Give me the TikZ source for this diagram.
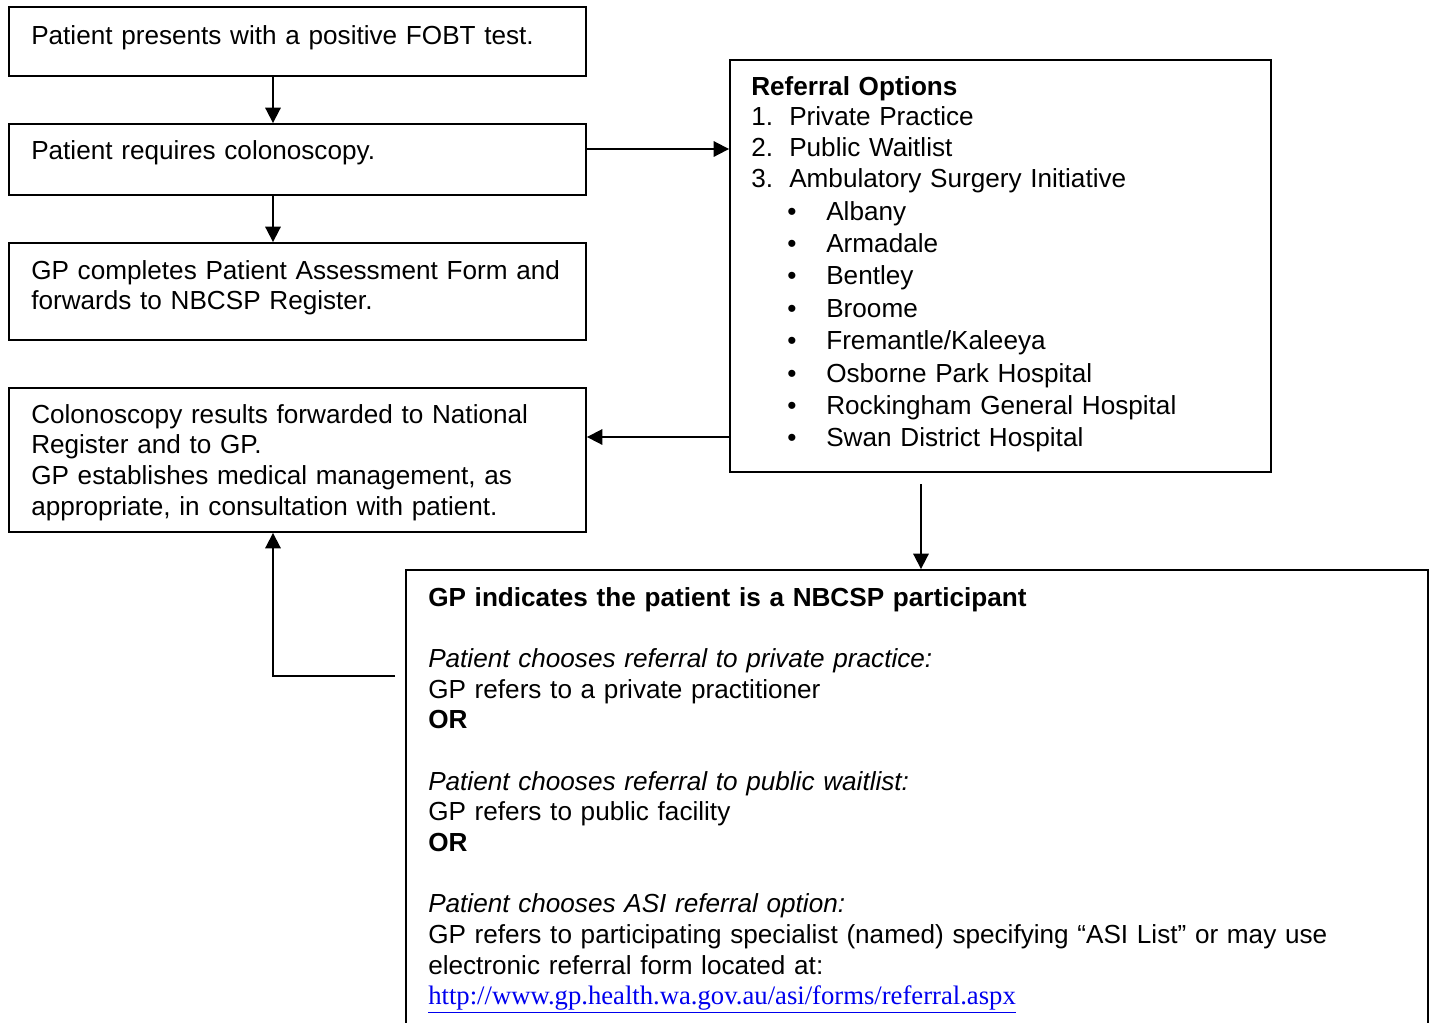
\documentclass[tikz,border=0pt]{standalone}
\usepackage{fontspec}
\setmainfont{Liberation Sans}
\newfontfamily\linkfont{Liberation Serif}
\usepackage{tikz}
\usetikzlibrary{arrows.meta,fit}
\definecolor{linkblue}{RGB}{0,0,238}

\begin{document}
\begin{tikzpicture}%
        [x=0.75pt, y=-0.75pt,
        box/.style={draw, line width=1.4pt, inner sep=0pt},
        txt/.style={anchor=base west, inner sep=0pt, text width=740pt, align=left,
                    font=\fontsize{19.6pt}{23pt}\selectfont},
        arr/.style={line width=1.4pt, -{Triangle[length=11.5pt, width=11.5pt]}}]
    %
    \useasboundingbox (0,0) rectangle (1432,1022);
    %
    %% Drawing the boxes
    \node[box, fit={(9,7) (586,76)}] (fobt) {};
    \node[box, fit={(9,124) (586,195)}] (colon) {};
    \node[box, fit={(9,243) (586,340)}] (gpform) {};
    \node[box, fit={(9,388) (586,532)}] (results) {};
    \node[box, fit={(730,60) (1271,472)}] (refer) {};
    \node[box, fit={(406,570) (1428,1060)}] (nbcsp) {};
    %%
    %% Texts of the boxes
    \node[txt] (fobt-txt) at (31,44) {Patient presents with a positive FOBT test.};
    \node[txt] (colon-txt) at (31,159) {Patient requires colonoscopy.};
    \node[txt] (gpform-txt) at (31,279) {GP completes Patient Assessment Form and\\
        forwards to NBCSP Register.};
    \node[txt] (results-txt) at (31,423) {Colonoscopy results forwarded to National\\
        Register and to GP.\\
        GP establishes medical management, as\\
        appropriate, in consultation with patient.};
    \node[txt] (refer-txt) at (751,95) {\textbf{Referral Options}\\
        \makebox[28.5pt][l]{1.}Private Practice\\
        \makebox[28.5pt][l]{2.}Public Waitlist\\
        \makebox[28.5pt][l]{3.}Ambulatory Surgery Initiative};
    \node[txt, font=\fontsize{19.6pt}{24.3pt}\selectfont] (sites-txt) at (787,220) {%
        \makebox[29.3pt][l]{\textbullet}Albany\\
        \makebox[29.3pt][l]{\textbullet}Armadale\\
        \makebox[29.3pt][l]{\textbullet}Bentley\\
        \makebox[29.3pt][l]{\textbullet}Broome\\
        \makebox[29.3pt][l]{\textbullet}Fremantle/Kaleeya\\
        \makebox[29.3pt][l]{\textbullet}Osborne Park Hospital\\
        \makebox[29.3pt][l]{\textbullet}Rockingham General Hospital\\
        \makebox[29.3pt][l]{\textbullet}Swan District Hospital};
    \node[txt] (nbcsp-txt) at (428,606) {\textbf{GP indicates the patient is a NBCSP participant}\\[23pt]
        \textit{Patient chooses referral to private practice:}\\
        GP refers to a private practitioner\\
        \textbf{OR}\\[23pt]
        \textit{Patient chooses referral to public waitlist:}\\
        GP refers to public facility\\
        \textbf{OR}\\[23pt]
        \textit{Patient chooses ASI referral option:}\\
        GP refers to participating specialist (named) specifying “ASI List” or may use\\
        electronic referral form located at:\\
        {\linkfont\fontsize{20pt}{23pt}\selectfont\color{linkblue}\underline{http://www.gp.health.wa.gov.au/asi/forms/referral.aspx}}};
    %%
    %% Drawing the arrows
    \coordinate (spine) at (273,0);
    \coordinate (row1) at (0,149);
    \coordinate (row2) at (0,437);
    \coordinate (drop) at (921,484);
    \coordinate (back) at (395,676);
    \draw[arr] (fobt.south -| spine) -- (colon.north -| spine);
    \draw[arr] (colon.south -| spine) -- (gpform.north -| spine);
    \draw[arr] (colon.east |- row1) -- (refer.west |- row1);
    \draw[arr] (refer.west |- row2) -- (results.east |- row2);
    \draw[arr] (drop) -- (drop |- nbcsp.north);
    \draw[arr] (back) -| (results.south -| spine);
    %%
\end{tikzpicture}
\end{document}
